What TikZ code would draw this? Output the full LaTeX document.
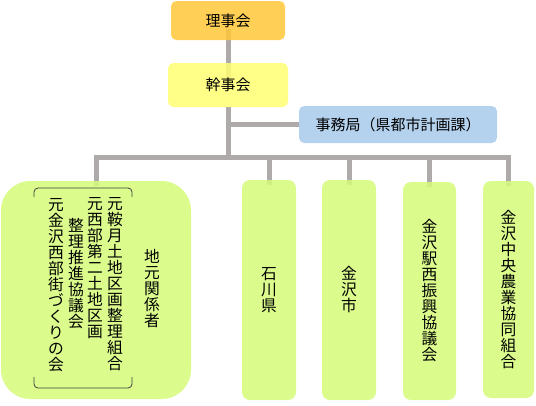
\documentclass[tikz,border=0pt]{standalone}
\usepackage{fontspec}
\setmainfont{Noto Sans CJK JP}
\usepackage{tikz}
\usetikzlibrary{backgrounds}

\definecolor{rijigold}{RGB}{255,200,55}
\definecolor{kanjiyellow}{RGB}{255,255,115}
\definecolor{jimublue}{RGB}{167,201,234}
\definecolor{boxgreen}{RGB}{213,252,121}
\definecolor{linegray}{RGB}{174,170,170}

\begin{document}
\begin{tikzpicture}[x=0.75pt,y=-0.75pt,
  box/.style={rounded corners=4pt,fill opacity=0.85,text opacity=1,inner sep=0pt,
    font=\fontsize{11.25pt}{12pt}\selectfont},
  tallbox/.style={box,fill=boxgreen,rounded corners=6pt,minimum width=40.5pt,
    minimum height=165pt,align=center,font=\fontsize{11.8pt}{12pt}\selectfont},
  vtext/.style={inner sep=0pt,align=center,font=\fontsize{11.8pt}{12pt}\selectfont},
  link/.style={draw=linegray,line width=3.75pt},
  bracket/.style={draw=black!75,line width=0.6pt,rounded corners=3pt}]
\useasboundingbox (0,0) rectangle (536,405);

% top
\node[box,fill=rijigold,minimum width=85.5pt,minimum height=29.25pt] (riji) at (228,20.5) {理事会};
\node[box,fill=kanjiyellow,minimum width=90pt,minimum height=33pt] (kanji) at (228,85) {幹事会};
\node[box,fill=jimublue,minimum width=148.5pt,minimum height=27.75pt] (jimu) at (398,124.5) {事務局（県都市計画課）\hspace{12pt}};
\coordinate (bus) at (228,157);

% local groups
\node[box,fill=boxgreen,rounded corners=22pt,minimum width=142.5pt,minimum height=163.5pt] (jimoto) at (96,290) {};
\node[vtext] (kurazuki) at (115,284) {元\\鞍\\月\\土\\地\\区\\画\\整\\理\\組\\合};
\node[vtext] (nishibu) at (95,268.5) {元\\西\\部\\第\\二\\土\\地\\区\\画};
\node[vtext] (suishin) at (76,273.5) {整\\理\\推\\進\\協\\議\\会};
\node[vtext] (machi) at (56,285) {元\\金\\沢\\西\\部\\街\\づ\\く\\り\\の\\会};
\node[vtext] (jimotolabel) at (152,289) {地\\元\\関\\係\\者};
\draw[bracket] (34,197) -- (34,188) -- (132,188) -- (132,197);
\draw[bracket] (34,377) -- (34,388) -- (132,388) -- (132,377);

% members
\node[tallbox] (ishikawa) at (269,290) {石\\川\\県};
\node[tallbox] (kanazawa) at (349,290) {金\\沢\\市};
\node[tallbox,minimum width=39.75pt,minimum height=163.5pt] (ekinishi) at (429.5,291) {金\\沢\\駅\\西\\振\\興\\協\\議\\会};
\node[tallbox,minimum width=38.25pt,minimum height=162.75pt] (noukyou) at (508.5,289.5) {金\\沢\\中\\央\\農\\業\\協\\同\\組\\合};

% lines
\begin{scope}[on background layer]
\draw[link] ([yshift=-6pt]riji.center) -- (kanji.center);
\draw[link] (kanji.south) -- (bus);
\draw[link] (kanji.south |- jimu.west) -- (jimu.west);
\draw[link] ([yshift=-4pt]jimoto.north) -- (jimoto.north |- bus) -- (noukyou.north |- bus) -- ([yshift=-4pt]noukyou.north);
\foreach \n in {ishikawa,kanazawa,ekinishi}
  \draw[link] (\n.north |- bus) -- ([yshift=-4pt]\n.north);
\end{scope}
\end{tikzpicture}
\end{document}
